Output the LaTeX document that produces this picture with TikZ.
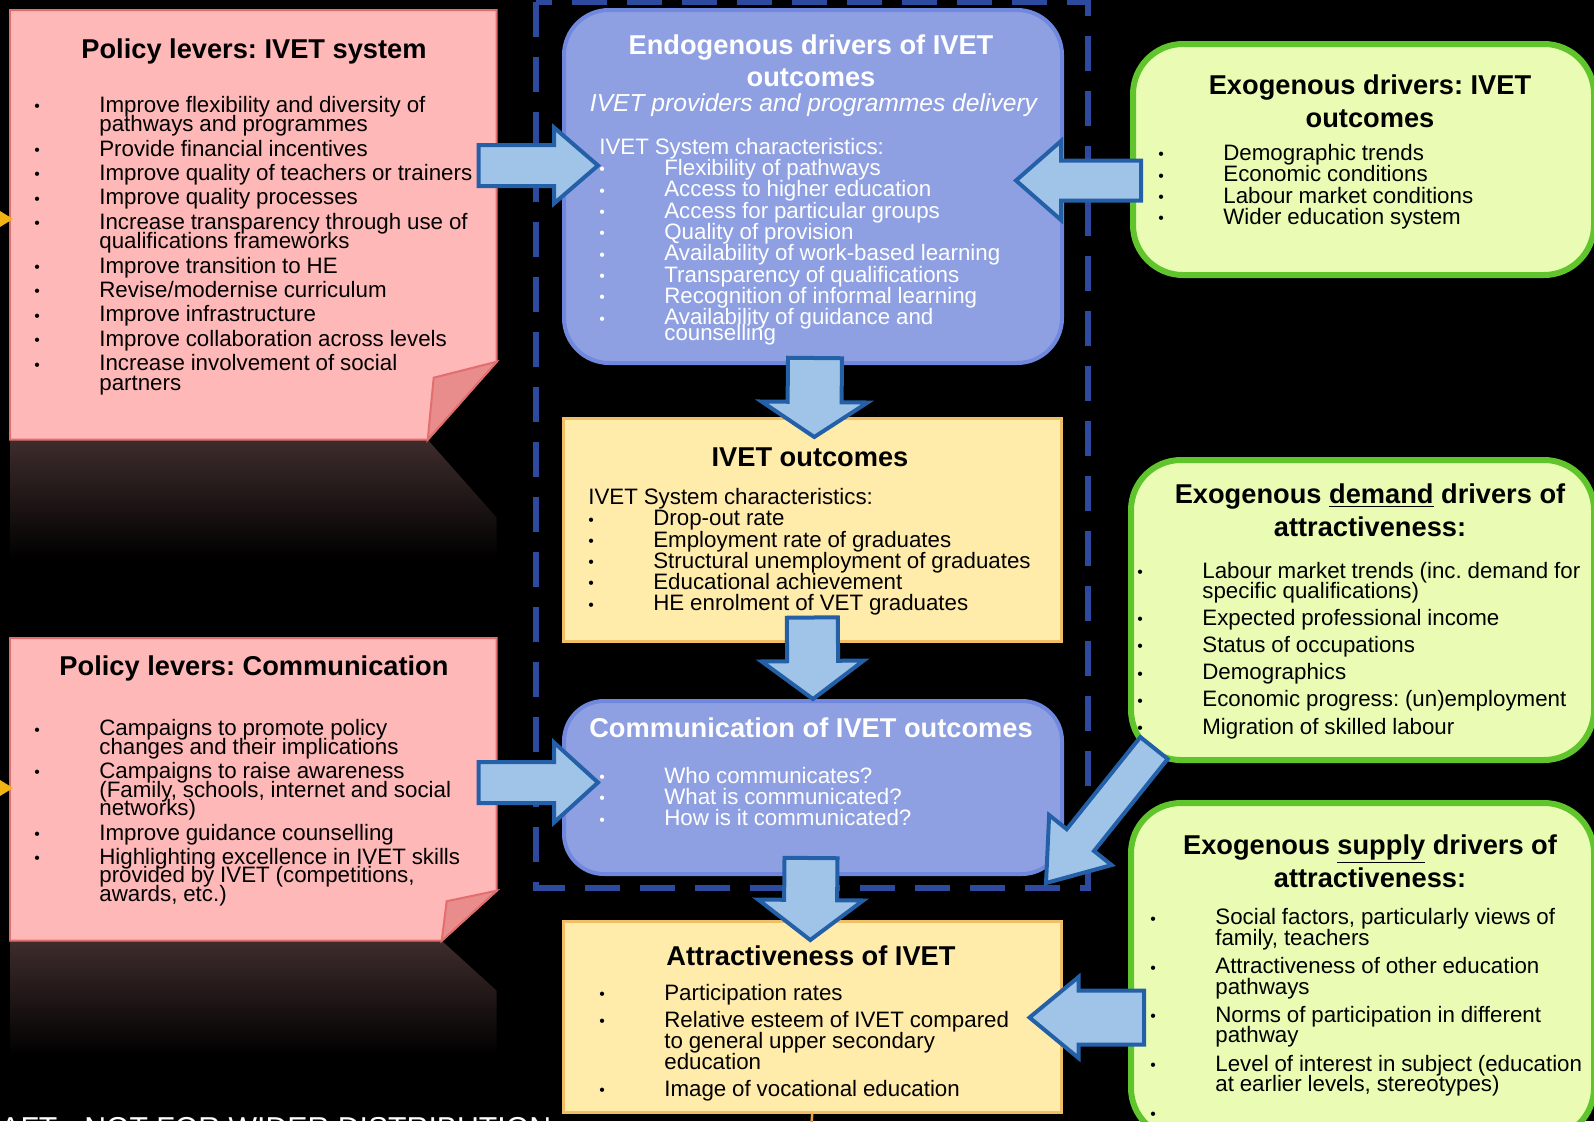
\documentclass[tikz,border=0pt]{standalone}
\usepackage{fontspec}
\setmainfont{Liberation Sans}
\usepackage{tikz}
\usetikzlibrary{calc}
\usepackage{xcolor}
\frenchspacing

\definecolor{pinkfill}{RGB}{255,184,184}
\definecolor{pinkline}{RGB}{226,110,110}
\definecolor{pinkfold}{RGB}{232,140,140}
\definecolor{pinkshade}{RGB}{62,44,44}
\definecolor{bluefill}{RGB}{143,160,226}
\definecolor{blueline}{RGB}{112,136,222}
\definecolor{yellowfill}{RGB}{255,236,170}
\definecolor{yellowline}{RGB}{240,190,100}
\definecolor{greenfill}{RGB}{234,252,180}
\definecolor{greenline}{RGB}{96,196,44}
\definecolor{arrowfill}{RGB}{160,196,232}
\definecolor{arrowline}{RGB}{36,96,168}
\definecolor{framecol}{RGB}{46,74,158}
\definecolor{tipcol}{RGB}{240,180,20}
\definecolor{linkcol}{RGB}{232,160,60}

\tikzstyle{box} = [rectangle, anchor=north west, inner sep=0pt]
\tikzstyle{pinkbox} = [fill=pinkfill, draw=pinkline, line width=0.04cm]
\tikzstyle{foldbox} = [fill=pinkfold, draw=pinkline, line width=0.04cm]
\tikzstyle{bluebox} = [box, fill=bluefill, draw=blueline, line width=0.08cm, rounded corners=0.9cm]
\tikzstyle{yellowbox} = [box, fill=yellowfill, draw=yellowline, line width=0.05cm]
\tikzstyle{greenbox} = [box, fill=greenfill, draw=greenline, line width=0.12cm, rounded corners=1cm]
\tikzstyle{title} = [inner sep=0pt, align=center, font=\fontsize{15.5}{18.5}\selectfont\bfseries]
\tikzstyle{list} = [anchor=north west, inner sep=0pt, text width=11cm, align=left]
\tikzstyle{arrowbox} = [fill=arrowfill, draw=arrowline, line width=0.08cm]
\tikzstyle{frame} = [draw=framecol, line width=0.12cm, dash pattern=on 0.7cm off 0.4cm]

\newcommand{\bodyfont}[2]{\fontsize{12.7}{#1}\selectfont\setlength{\parskip}{#2}\lineskiplimit=-50pt\relax}
\newcommand{\itm}[1]{\par\hangindent=1.3cm\hangafter=1\noindent\makebox[1.3cm][l]{\raisebox{0.4pt}{\fontsize{9}{9}\selectfont\textbullet}}#1\par}
\newcommand{\blockarrow}[5]{%
    \coordinate (fh) at ($(#2)!#5!(#1)$);%
    \draw[arrowbox] ($(#1)!#3!90:(#2)$) -- ($(fh)!#3!90:(#2)$) -- ($(fh)!#4!90:(#2)$) -- (#2) -- ($(fh)!#4!-90:(#2)$) -- ($(fh)!#3!-90:(#2)$) -- ($(#1)!#3!-90:(#2)$) -- cycle;%
}

\begin{document}
\begin{tikzpicture}

        \useasboundingbox (0,0) rectangle (31.88,-22.42);
        \clip (0,0) rectangle (31.88,-22.42);
        \fill[black] (0,0) rectangle (31.88,-22.42);

        \draw[frame] (10.72,-0.04) rectangle (21.76,-17.76);

        \node (pol1) [box, minimum width=9.72cm, minimum height=8.58cm] at (0.2,-0.2) {};
        \shade[top color=pinkshade, bottom color=black] (pol1.south west) -- ($(pol1.south east)+(-1.38,0)$) -- ($(pol1.south east)+(0,-1.56)$) -- ($(pol1.south east)+(0,-2.4)$) -- ($(pol1.south west)+(0,-2.4)$) -- cycle;
        \filldraw[pinkbox] (pol1.north west) -- (pol1.north east) -- ($(pol1.south east)+(0,1.56)$) -- ($(pol1.south east)+(-1.38,0)$) -- (pol1.south west) -- cycle;
        \filldraw[foldbox] ($(pol1.south east)+(0,1.56)$) -- ($(pol1.south east)+(-1.26,1.24)$) -- ($(pol1.south east)+(-1.38,0)$) -- cycle;

        \node (pol2) [box, minimum width=9.72cm, minimum height=6.04cm] at (0.2,-12.76) {};
        \shade[top color=pinkshade, bottom color=black] (pol2.south west) -- ($(pol2.south east)+(-1.1,0)$) -- ($(pol2.south east)+(0,-1.0)$) -- ($(pol2.south east)+(0,-2.3)$) -- ($(pol2.south west)+(0,-2.3)$) -- cycle;
        \filldraw[pinkbox] (pol2.north west) -- (pol2.north east) -- ($(pol2.south east)+(0,1.0)$) -- ($(pol2.south east)+(-1.1,0)$) -- (pol2.south west) -- cycle;
        \filldraw[foldbox] ($(pol2.south east)+(0,1.0)$) -- ($(pol2.south east)+(-1.0,0.79)$) -- ($(pol2.south east)+(-1.1,0)$) -- cycle;

        \node (endo) [bluebox, minimum width=9.96cm, minimum height=7.06cm] at (11.24,-0.16) {};
        \node (outc) [yellowbox, minimum width=9.96cm, minimum height=4.46cm] at (11.24,-8.34) {};
        \node (comm) [bluebox, rounded corners=0.8cm, minimum width=9.96cm, minimum height=3.46cm] at (11.24,-13.98) {};
        \node (attr) [yellowbox, minimum width=9.96cm, minimum height=3.82cm] at (11.24,-18.4) {};

        \node (exo) [greenbox, minimum width=9.22cm, minimum height=4.62cm] at (22.6,-0.82) {};
        \node (dem) [greenbox, minimum width=9.26cm, minimum height=6.0cm] at (22.56,-9.14) {};
        \node (sup) [greenbox, minimum width=9.26cm, minimum height=6.7cm] at (22.56,-16.0) {};

        \node (pol1t) [title] at (5.08,-1.02) {Policy levers: IVET system};
        \node (pol1l) [list] at (0.68,-1.75) {\bodyfont{11pt}{2.9pt}%
            \itm{Improve flexibility and diversity of\newline pathways and programmes}
            \itm{Provide financial incentives}
            \itm{Improve quality of teachers or trainers}
            \itm{Improve quality processes}
            \itm{Increase transparency through use of\newline qualifications frameworks}
            \itm{Improve transition to HE}
            \itm{Revise/modernise curriculum}
            \itm{Improve infrastructure}
            \itm{Improve collaboration across levels}
            \itm{Increase involvement of social\newline partners}};

        \node (pol2t) [title] at (5.08,-13.36) {Policy levers: Communication};
        \node (pol2l) [list] at (0.68,-14.22) {\bodyfont{10.5pt}{3.4pt}%
            \itm{Campaigns to promote policy\newline changes and their implications}
            \itm{Campaigns to raise awareness\newline (Family, schools, internet and social\newline networks)}
            \itm{Improve guidance counselling}
            \itm{Highlighting excellence in IVET skills\newline provided by IVET (competitions,\newline awards, etc.)}};

        \node (endot) [title, text=white] at (16.22,-1.22) {Endogenous drivers of IVET\\outcomes};
        \node (endos) [inner sep=0pt, text=white, font=\fontsize{14}{16}\selectfont\itshape] at (16.27,-2.1) {IVET providers and programmes delivery};
        \node (endol) [list, text=white] at (11.98,-2.75) {\bodyfont{8.65pt}{3.5pt}%
            \noindent IVET System characteristics:
            \itm{Flexibility of pathways}
            \itm{Access to higher education}
            \itm{Access for particular groups}
            \itm{Quality of provision}
            \itm{Availability of work-based learning}
            \itm{Transparency of qualifications}
            \itm{Recognition of informal learning}
            \itm{Availability of guidance and\newline counselling}};

        \node (outct) [title] at (16.2,-9.15) {IVET outcomes};
        \node (outcl) [list] at (11.76,-9.76) {\bodyfont{12.1pt}{0pt}%
            \noindent IVET System characteristics:
            \itm{Drop-out rate}
            \itm{Employment rate of graduates}
            \itm{Structural unemployment of graduates}
            \itm{Educational achievement}
            \itm{HE enrolment of VET graduates}};

        \node (commt) [title, text=white] at (16.22,-14.56) {Communication of IVET outcomes};
        \node (comml) [list, text=white] at (11.98,-15.23) {\bodyfont{12.15pt}{0pt}%
            \itm{Who communicates?}
            \itm{What is communicated?}
            \itm{How is it communicated?}};

        \node (attrt) [title] at (16.22,-19.11) {Attractiveness of IVET};
        \node (attrl) [list] at (11.98,-19.46) {\bodyfont{12.1pt}{3.2pt}%
            \itm{Participation rates}
            \itm{Relative esteem of IVET compared\newline to general upper secondary\newline education}
            \itm{Image of vocational education}};

        \node (exot) [title] at (27.4,-2.03) {Exogenous drivers: IVET\\outcomes};
        \node (exol) [list] at (23.16,-2.77) {\bodyfont{12.2pt}{0pt}%
            \itm{Demographic trends}
            \itm{Economic conditions}
            \itm{Labour market conditions}
            \itm{Wider education system}};

        \node (demt) [title] at (27.4,-10.21) {Exogenous \underline{demand} drivers of\\attractiveness:};
        \node (deml) [list] at (22.74,-11.01) {\bodyfont{11.55pt}{3.9pt}%
            \itm{Labour market trends (inc. demand for\newline specific qualifications)}
            \itm{Expected professional income}
            \itm{Status of occupations}
            \itm{Demographics}
            \itm{Economic progress: (un)employment}
            \itm{Migration of skilled labour}};

        \node (supt) [title] at (27.4,-17.22) {Exogenous \underline{supply} drivers of\\attractiveness:};
        \node (supl) [list] at (23.0,-17.92) {\bodyfont{11.55pt}{4.7pt}%
            \itm{Social factors, particularly views of\newline family, teachers}
            \itm{Attractiveness of other education\newline pathways}
            \itm{Norms of participation in different\newline pathway}
            \itm{Level of interest in subject (education\newline at earlier levels, stereotypes)}
            \itm{}};

        \coordinate (p1a) at ($(pol1.north east)+(-0.36,-3.11)$);
        \coordinate (p1b) at ($(endo.north west)+(0.72,-3.15)$);
        \coordinate (p2a) at ($(pol2.north east)+(-0.36,-2.89)$);
        \coordinate (p2b) at ($(comm.north west)+(0.72,-1.67)$);
        \coordinate (x1a) at ($(exo.north west)+(0.22,-2.79)$);
        \coordinate (x1b) at ($(endo.north east)+(-0.96,-3.45)$);
        \coordinate (s1a) at ($(sup.north west)+(0.32,-4.35)$);
        \coordinate (s1b) at ($(attr.north east)+(-0.66,-1.95)$);
        \coordinate (d1a) at ($(dem.south west)+(0.52,0.3)$);
        \coordinate (d1b) at ($(comm.south east)+(-0.36,-0.14)$);
        \coordinate (e1a) at ($(endo.south)+(0.04,0.14)$);
        \coordinate (e1b) at ($(outc.north)+(0.04,-0.4)$);
        \coordinate (e2a) at ($(outc.south)+(0,0.5)$);
        \coordinate (e2b) at (comm.north);
        \coordinate (e3a) at ($(comm.south)+(-0.04,0.36)$);
        \coordinate (e3b) at ($(attr.north)+(-0.04,-0.4)$);

        \blockarrow{p1a}{p1b}{0.41cm}{0.76cm}{0.88cm}
        \blockarrow{p2a}{p2b}{0.41cm}{0.8cm}{0.88cm}
        \blockarrow{x1a}{x1b}{0.4cm}{0.79cm}{0.9cm}
        \blockarrow{s1a}{s1b}{0.54cm}{0.81cm}{0.98cm}
        \blockarrow{d1a}{d1b}{0.35cm}{0.8cm}{1.1cm}
        \blockarrow{e1a}{e1b}{0.54cm}{1.06cm}{0.7cm}
        \blockarrow{e2a}{e2b}{0.51cm}{1.02cm}{0.76cm}
        \blockarrow{e3a}{e3b}{0.53cm}{1.05cm}{0.8cm}

        \fill[tipcol] (0,-4.22) -- (0.26,-4.38) -- (0,-4.54) -- cycle;
        \fill[tipcol] (0,-15.6) -- (0.26,-15.76) -- (0,-15.92) -- cycle;

        \coordinate (attrlink) at (16.22,-22.6);
        \draw[linkcol, line width=0.05cm] (attr.south) -- (attrlink);

        \node (draft) [anchor=base west, inner sep=0pt, text=white, font=\fontsize{17.2}{20}\selectfont] at (0,-22.76) {AFT - NOT FOR WIDER DISTRIBUTION};

\end{tikzpicture}
\end{document}
